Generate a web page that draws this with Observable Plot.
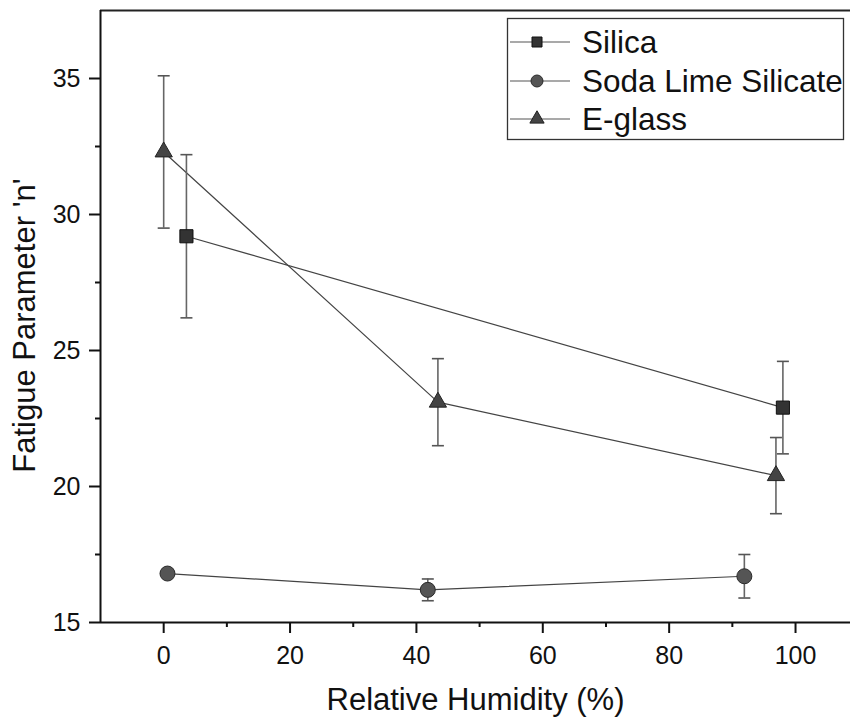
<!DOCTYPE html>
<html>
<head>
<meta charset="utf-8">
<script src="https://cdn.jsdelivr.net/npm/d3@7"></script>
<script src="https://cdn.jsdelivr.net/npm/@observablehq/plot@0.6"></script>
<style>
  html, body { margin: 0; padding: 0; background: #fff; }
  #chart { position: relative; width: 850px; height: 719px; }
  #legend { position: absolute; left: 0; top: 0; pointer-events: none; }
</style>
</head>
<body>
<div id="chart"></div>
<script>
// Fatigue parameter n versus relative humidity for three glasses
const seriesNames = ["Silica", "Soda Lime Silicate", "E-glass"];

const silicaRH  = [3.6, 98.0];
const silicaN   = [29.2, 22.9];
const silicaErr = [3.0, 1.7];

const sodaRH  = [0.6, 41.8, 91.9];
const sodaN   = [16.8, 16.2, 16.7];
const sodaErr = [0.1, 0.4, 0.8];

const eglassRH  = [0.0, 43.4, 96.9];
const eglassN   = [32.3, 23.1, 20.4];
const eglassErr = [2.8, 1.6, 1.4];

const xTicks = [0, 20, 40, 60, 80, 100];
const xMinor = [10, 30, 50, 70, 90];
const yTicks = [15, 20, 25, 30, 35];
const yMinor = [17.5, 22.5, 27.5, 32.5];

const rows = (name, rh, n, err) => rh.map((x, i) => ({series: name, rh: x, n: n[i], err: err[i]}));
const silica = rows(seriesNames[0], silicaRH, silicaN, silicaErr);
const soda = rows(seriesNames[1], sodaRH, sodaN, sodaErr);
const eglass = rows(seriesNames[2], eglassRH, eglassN, eglassErr);
const all = [...silica, ...soda, ...eglass];

// horizontal cap used at the ends of the error bars
const cap = {
  draw(ctx, size) {
    const w = Math.sqrt(size / Math.PI);
    ctx.moveTo(-w, 0);
    ctx.lineTo(w, 0);
  }
};

const style = {
  Silica: {symbol: "square", r: 7.4, fill: "#333", stroke: "#111"},
  "Soda Lime Silicate": {symbol: "circle", r: 7.5, fill: "#555", stroke: "#2a2a2a"},
  "E-glass": {symbol: "triangle", r: 6.4, fill: "#444", stroke: "#222"}
};

const font = "'Liberation Sans', Arial, Helvetica, sans-serif";

const markerMarks = [silica, soda, eglass].map(d => {
  const s = style[d[0].series];
  return Plot.dot(d, {x: "rh", y: "n", symbol: () => s.symbol, r: s.r, fill: s.fill, stroke: s.stroke, strokeWidth: 1});
});

const plot = Plot.plot({
  width: 850,
  height: 719,
  marginLeft: 100,
  marginRight: 0,
  marginTop: 10,
  marginBottom: 97,
  x: {domain: [-10, 108.7]},
  y: {domain: [15, 37.5]},
  style: {fontFamily: font, background: "#fff", color: "#111"},
  marks: [
    // frame
    Plot.ruleY([37.5], {stroke: "#222", strokeWidth: 2}),
    Plot.ruleY([15], {stroke: "#111", strokeWidth: 2}),
    Plot.ruleX([-10], {stroke: "#111", strokeWidth: 2}),
    // axes
    Plot.axisX({ticks: xTicks, tickSize: 11, tickPadding: 13, fontSize: 25, strokeWidth: 2, label: null}),
    Plot.axisX({ticks: xMinor, tickSize: 5, strokeWidth: 2, tickFormat: () => "", label: null}),
    Plot.axisY({ticks: yTicks, tickSize: 11, tickPadding: 9, fontSize: 25, strokeWidth: 2, label: null}),
    Plot.axisY({ticks: yMinor, tickSize: 5, strokeWidth: 2, tickFormat: () => "", label: null}),
    Plot.text(["Relative Humidity (%)"], {frameAnchor: "bottom", dy: 87, fontSize: 31, fill: "#111"}),
    Plot.text(["Fatigue Parameter 'n'"], {frameAnchor: "left", textAnchor: "middle", rotate: -90, dx: -75, dy: 9, fontSize: 31, fill: "#111"}),
    // connecting lines
    Plot.line(all, {x: "rh", y: "n", z: "series", stroke: "#444", strokeWidth: 1.2}),
    // error bars
    Plot.ruleX(all, {x: "rh", y1: d => d.n - d.err, y2: d => d.n + d.err, stroke: "#666", strokeWidth: 1.6}),
    Plot.dot(all, {x: "rh", y: d => d.n + d.err, symbol: cap, r: 6, stroke: "#555", strokeWidth: 1.6}),
    Plot.dot(all, {x: "rh", y: d => d.n - d.err, symbol: cap, r: 6, stroke: "#555", strokeWidth: 1.6}),
    // markers
    ...markerMarks
  ]
});

const chart = document.getElementById("chart");
chart.appendChild(plot);

// legend box in the upper right corner
const legendSymbols = {square: d3.symbolSquare, circle: d3.symbolCircle, triangle: d3.symbolTriangle};
const legendSizes = {square: 100, circle: 113, triangle: 88};
const svg = d3.select(chart).append("svg")
  .attr("id", "legend")
  .attr("width", 850)
  .attr("height", 719);
svg.append("rect")
  .attr("x", 507.5).attr("y", 18.5)
  .attr("width", 336).attr("height", 121)
  .attr("fill", "#fff").attr("stroke", "#333").attr("stroke-width", 1.3);
const rowY = [42, 81, 119];
seriesNames.forEach((name, i) => {
  const s = style[name];
  const g = svg.append("g").attr("transform", `translate(0,${rowY[i]})`);
  g.append("line").attr("x1", 510).attr("x2", 570).attr("stroke", "#555").attr("stroke-width", 1.2);
  g.append("path")
    .attr("transform", "translate(537,0)")
    .attr("d", d3.symbol(legendSymbols[s.symbol], legendSizes[s.symbol])())
    .attr("fill", s.fill).attr("stroke", s.stroke).attr("stroke-width", 1);
  g.append("text")
    .attr("x", 582).attr("dy", "0.35em")
    .attr("font-family", font).attr("font-size", 31.5).attr("fill", "#111")
    .text(name);
});
</script>
</body>
</html>
